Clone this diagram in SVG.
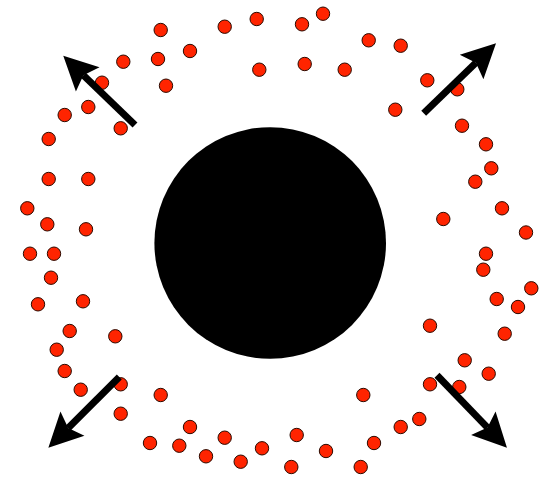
<svg xmlns="http://www.w3.org/2000/svg" width="544" height="477" viewBox="0 0 544 477">
<style>
.dot{fill:#ff2400;stroke:#2a0a00;stroke-width:1}
.arrow{stroke:#000;stroke-width:7;fill:none;stroke-linecap:butt;marker-end:url(#head)}
</style>
<defs>
<marker id="head" markerUnits="userSpaceOnUse" markerWidth="40" markerHeight="40" viewBox="0 -20 40 40" refX="6" refY="0" orient="auto" overflow="visible">
<path d="M0,-17 L34,0 L0,17 L6,0 Z" fill="#000"/>
</marker>
</defs>
<rect width="544" height="477" fill="#fff"/>
<g id="core"><circle cx="270.2" cy="243" r="115.8" fill="#000"/></g>
<g id="particles">
<circle class="dot" cx="160.7" cy="30" r="6.7"/>
<circle class="dot" cx="224.7" cy="26.7" r="6.7"/>
<circle class="dot" cx="256.7" cy="19" r="6.7"/>
<circle class="dot" cx="190" cy="51" r="6.7"/>
<circle class="dot" cx="158" cy="59" r="6.7"/>
<circle class="dot" cx="123.3" cy="61.7" r="6.7"/>
<circle class="dot" cx="259.3" cy="69.7" r="6.7"/>
<circle class="dot" cx="102" cy="82.7" r="6.7"/>
<circle class="dot" cx="166" cy="85.7" r="6.7"/>
<circle class="dot" cx="88.3" cy="107" r="6.7"/>
<circle class="dot" cx="64.7" cy="115" r="6.7"/>
<circle class="dot" cx="120.7" cy="128.3" r="6.7"/>
<circle class="dot" cx="48.7" cy="139" r="6.7"/>
<circle class="dot" cx="48.7" cy="179" r="6.7"/>
<circle class="dot" cx="88.3" cy="179" r="6.7"/>
<circle class="dot" cx="27.3" cy="208.3" r="6.7"/>
<circle class="dot" cx="47.3" cy="224.3" r="6.7"/>
<circle class="dot" cx="86" cy="229.3" r="6.7"/>
<circle class="dot" cx="323" cy="13.7" r="6.7"/>
<circle class="dot" cx="302" cy="24.3" r="6.7"/>
<circle class="dot" cx="368.7" cy="40.3" r="6.7"/>
<circle class="dot" cx="400.7" cy="45.7" r="6.7"/>
<circle class="dot" cx="304.7" cy="64" r="6.7"/>
<circle class="dot" cx="344.7" cy="69.7" r="6.7"/>
<circle class="dot" cx="427.3" cy="80.3" r="6.7"/>
<circle class="dot" cx="457.3" cy="89.3" r="6.7"/>
<circle class="dot" cx="395.3" cy="109.7" r="6.7"/>
<circle class="dot" cx="462" cy="125.7" r="6.7"/>
<circle class="dot" cx="486" cy="144.3" r="6.7"/>
<circle class="dot" cx="491.3" cy="168.3" r="6.7"/>
<circle class="dot" cx="475.3" cy="181.7" r="6.7"/>
<circle class="dot" cx="502" cy="208.3" r="6.7"/>
<circle class="dot" cx="443.3" cy="219" r="6.7"/>
<circle class="dot" cx="526" cy="232.5" r="6.7"/>
<circle class="dot" cx="30" cy="253.7" r="6.7"/>
<circle class="dot" cx="54" cy="253.7" r="6.7"/>
<circle class="dot" cx="51" cy="277.7" r="6.7"/>
<circle class="dot" cx="38" cy="304.3" r="6.7"/>
<circle class="dot" cx="83" cy="301.3" r="6.7"/>
<circle class="dot" cx="69.7" cy="331" r="6.7"/>
<circle class="dot" cx="115.3" cy="336.3" r="6.7"/>
<circle class="dot" cx="56.7" cy="349.7" r="6.7"/>
<circle class="dot" cx="64.7" cy="371" r="6.7"/>
<circle class="dot" cx="80.7" cy="389.7" r="6.7"/>
<circle class="dot" cx="120.7" cy="384.3" r="6.7"/>
<circle class="dot" cx="160.7" cy="395" r="6.7"/>
<circle class="dot" cx="120.7" cy="413.7" r="6.7"/>
<circle class="dot" cx="190" cy="427" r="6.7"/>
<circle class="dot" cx="224.7" cy="437.7" r="6.7"/>
<circle class="dot" cx="262" cy="448.3" r="6.7"/>
<circle class="dot" cx="150" cy="443" r="6.7"/>
<circle class="dot" cx="179.3" cy="445.7" r="6.7"/>
<circle class="dot" cx="206" cy="456.3" r="6.7"/>
<circle class="dot" cx="240.7" cy="461.7" r="6.7"/>
<circle class="dot" cx="486" cy="253.7" r="6.7"/>
<circle class="dot" cx="483.3" cy="269.7" r="6.7"/>
<circle class="dot" cx="531.3" cy="288.3" r="6.7"/>
<circle class="dot" cx="496.7" cy="299" r="6.7"/>
<circle class="dot" cx="518" cy="307" r="6.7"/>
<circle class="dot" cx="504.7" cy="333.7" r="6.7"/>
<circle class="dot" cx="430" cy="325.7" r="6.7"/>
<circle class="dot" cx="464.7" cy="360.3" r="6.7"/>
<circle class="dot" cx="488.7" cy="373.7" r="6.7"/>
<circle class="dot" cx="430" cy="384.3" r="6.7"/>
<circle class="dot" cx="459.3" cy="387" r="6.7"/>
<circle class="dot" cx="363.3" cy="395" r="6.7"/>
<circle class="dot" cx="419.3" cy="419" r="6.7"/>
<circle class="dot" cx="400.7" cy="427" r="6.7"/>
<circle class="dot" cx="374" cy="443" r="6.7"/>
<circle class="dot" cx="296.7" cy="435" r="6.7"/>
<circle class="dot" cx="326" cy="451" r="6.7"/>
<circle class="dot" cx="291.3" cy="467" r="6.7"/>
<circle class="dot" cx="360.7" cy="467" r="6.7"/>
</g>
<g id="connectors">
<line class="arrow" x1="135" y1="125" x2="83.4" y2="75.2"/>
<line class="arrow" x1="423.7" y1="113.3" x2="475.9" y2="62.8"/>
<line class="arrow" x1="119.3" y1="377" x2="68.2" y2="427.9"/>
<line class="arrow" x1="437" y1="375.3" x2="487.5" y2="427.6"/>
</g>
</svg>
